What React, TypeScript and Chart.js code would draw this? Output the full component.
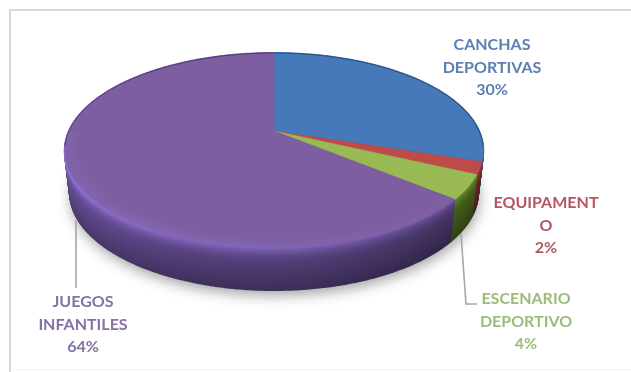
import React, { useEffect, useRef } from "react";
import { Chart, registerables } from "chart.js";

Chart.register(...registerables);

const categories = ["CANCHAS DEPORTIVAS", "EQUIPAMENTO", "ESCENARIO DEPORTIVO", "JUEGOS INFANTILES"];
const shares = [30, 2, 4, 64];
const labelLines = [["CANCHAS", "DEPORTIVAS"], ["EQUIPAMENT", "O"], ["ESCENARIO", "DEPORTIVO"], ["JUEGOS", "INFANTILES"]];
const sliceColors = ["#4679b9", "#be4b48", "#98b954", "#7d5ea0"];
const wallColors = ["#4679b9", "#b8403c", "#709a30", "#7257a6"];
const bevelColors = ["#6f9bd6", "#d87270", "#b5d478", "#8a6fc6"];
const labelColors = ["#5c80b0", "#b5565f", "#9dbb7a", "#8571a3"];

// Placement of the labels: centre x and first baseline y.
const labelAnchors = [
  { x: 492, y: 50 },
  { x: 546, y: 208 },
  { x: 526, y: 304 },
  { x: 83, y: 307 },
];
const LINE_HEIGHT = 22.5;

// Disc seen in perspective: apex, axes, foreshortening and wall height.
const CX = 274;
const CY = 131;
const AX = 205;
const BY = 93.6;
const TILT = 0.2;
const WALL = 42;

const project = (theta: number, r: number, t: number) => {
  const u = Math.sin(theta) * r;
  const v = -Math.cos(theta) * r;
  const w = 1 / (1 - TILT * v);
  const narrow = 1 - 0.025 * (t / WALL);
  return { x: CX + AX * u * w * narrow, y: CY + BY * v * w + t };
};

const rgb = (hex: string) => [1, 3, 5].map((i) => parseInt(hex.slice(i, i + 2), 16));

const shade = (c: number[], factor: number, alpha = 1) =>
  `rgba(${c.map((n) => Math.max(0, Math.min(255, Math.round(n * factor)))).join(",")},${alpha})`;

const tracePath = (ctx: CanvasRenderingContext2D, from: number, to: number, r: number, t: number, move: boolean) => {
  const steps = Math.max(2, Math.ceil(Math.abs(to - from) / 0.01));
  for (let i = 0; i <= steps; i++) {
    const p = project(from + ((to - from) * i) / steps, r, t);
    if (i === 0 && move) ctx.moveTo(p.x, p.y);
    else ctx.lineTo(p.x, p.y);
  }
};

// Brightness of the wall from rim (0) to base (1).
const wallFall = (depth: number) => {
  if (depth < 0.15) return 1.08 - 1.5 * depth;
  if (depth < 0.3) return 0.855 - 0.9 * (depth - 0.15);
  return 0.72 - 0.28 * (depth - 0.3);
};

const disc3d = {
  id: "disc3d",
  beforeDraw(chart: any) {
    const { ctx, width, height } = chart;
    ctx.save();
    ctx.fillStyle = "#ffffff";
    ctx.fillRect(0, 0, width, height);
    ctx.fillStyle = "#d9d9d9";
    ctx.fillRect(9, 9, width, 2);
    ctx.fillRect(9, 9, 2, height);
    ctx.fillStyle = "#f1f1f1";
    ctx.fillRect(11, 369, width, 1);
    ctx.restore();
  },
  beforeDatasetDraw() {
    // The wedges are painted by afterDatasetsDraw with the perspective applied.
    return false;
  },
  afterDatasetsDraw(chart: any) {
    const { ctx } = chart;
    const arcs = chart.getDatasetMeta(0).data as any[];
    const wedges = arcs.map((arc, i) => ({
      start: arc.startAngle + Math.PI / 2,
      end: arc.endAngle + Math.PI / 2,
      color: sliceColors[i],
      wall: rgb(wallColors[i]),
      bevel: rgb(bevelColors[i]),
    }));

    ctx.save();

    // Soft shadow under the base
    ctx.save();
    ctx.shadowColor = "rgba(0,0,0,0.38)";
    ctx.shadowBlur = 14;
    ctx.shadowOffsetY = 5;
    ctx.shadowOffsetX = 1;
    ctx.fillStyle = "#3d2a5e";
    ctx.beginPath();
    tracePath(ctx, 0, Math.PI * 2, 1, WALL, true);
    ctx.closePath();
    ctx.fill();
    ctx.restore();

    // Wall, layer by layer from the base up to the rim
    ctx.lineWidth = 2;
    ctx.lineCap = "butt";
    ctx.lineJoin = "round";
    for (let t = WALL; t >= 0; t -= 1) {
      const fall = wallFall(t / WALL);
      for (const w of wedges) {
        // Light comes from the upper left: brighter on the left, darker on the right.
        const g = ctx.createLinearGradient(CX - AX, 0, CX + AX, 0);
        g.addColorStop(0, shade(w.wall, fall * 1.22));
        g.addColorStop(0.3, shade(w.wall, fall * 1.05));
        g.addColorStop(0.6, shade(w.wall, fall * 0.98));
        g.addColorStop(1, shade(w.wall, fall * 0.78));
        ctx.strokeStyle = g;
        ctx.beginPath();
        tracePath(ctx, w.start, w.end, 1, t, true);
        ctx.stroke();
      }
    }

    // Flat top
    for (const w of wedges) {
      ctx.fillStyle = w.color;
      ctx.strokeStyle = w.color;
      ctx.lineWidth = 0.6;
      ctx.beginPath();
      ctx.moveTo(CX, CY);
      tracePath(ctx, w.start, w.end, 1, 0, false);
      ctx.closePath();
      ctx.fill();
      ctx.stroke();
    }

    // Rounded bevel along the front of the rim, fading towards the right and the far left
    ctx.lineWidth = 1.8;
    for (const w of wedges) {
      for (let k = 0; k < 11; k++) {
        const r = 1 - k * 0.0065;
        const strength = (1 - k / 11) * 0.34;
        const g = ctx.createLinearGradient(470, 130, 60, 245);
        g.addColorStop(0, shade(w.bevel, 1, 0));
        g.addColorStop(0.45, shade(w.bevel, 1, strength * 0.6));
        g.addColorStop(0.8, shade(w.bevel, 1, strength));
        g.addColorStop(1, shade(w.bevel, 1, strength * 0.7));
        ctx.strokeStyle = g;
        ctx.beginPath();
        tracePath(ctx, Math.max(w.start, 1.5), Math.min(w.end, 4.7), r, 0, true);
        ctx.stroke();
      }
    }

    // Dark hairline on the far edge
    ctx.lineWidth = 1;
    for (const w of wedges) {
      ctx.strokeStyle = shade(rgb(w.color), 0.62);
      const parts = [
        [w.start, Math.min(w.end, Math.PI * 0.55)],
        [Math.max(w.start, Math.PI * 1.45), w.end],
      ];
      for (const [a, b] of parts) {
        if (b <= a) continue;
        ctx.beginPath();
        tracePath(ctx, a, b, 1, 0, true);
        ctx.stroke();
      }
    }

    ctx.restore();
  },
  afterDraw(chart: any) {
    const { ctx } = chart;
    ctx.save();

    // Leader lines
    ctx.strokeStyle = "#a6a6a6";
    ctx.lineWidth = 1.6;
    ctx.beginPath();
    ctx.moveTo(76, 220);
    ctx.lineTo(76, 288);
    ctx.moveTo(461, 234);
    ctx.lineTo(466, 304);
    ctx.lineTo(477, 304);
    ctx.stroke();

    // Category names with their share
    ctx.font = "bold 16px Lato";
    ctx.textAlign = "center";
    ctx.textBaseline = "alphabetic";
    labelLines.forEach((lines, i) => {
      ctx.fillStyle = labelColors[i];
      const rows = [...lines, `${shares[i]}%`];
      rows.forEach((row, j) => ctx.fillText(row, labelAnchors[i].x, labelAnchors[i].y + j * LINE_HEIGHT));
    });
    ctx.restore();
  },
};

export default function App() {
  const ref = useRef<HTMLCanvasElement>(null);
  useEffect(() => {
    const chart = new Chart(ref.current!, {
      type: "pie",
      data: {
        labels: categories,
        datasets: [{ data: shares, backgroundColor: sliceColors, borderWidth: 0 }],
      },
      options: {
        responsive: false,
        animation: false,
        plugins: { legend: { display: false }, tooltip: { enabled: false } },
      },
      plugins: [disc3d],
    } as any);
    return () => chart.destroy();
  }, []);
  return (
    <canvas
      ref={ref}
      width={631}
      height={372}
      style={{ position: "fixed", left: 0, top: 0, width: 631, height: 372 }}
    />
  );
}
